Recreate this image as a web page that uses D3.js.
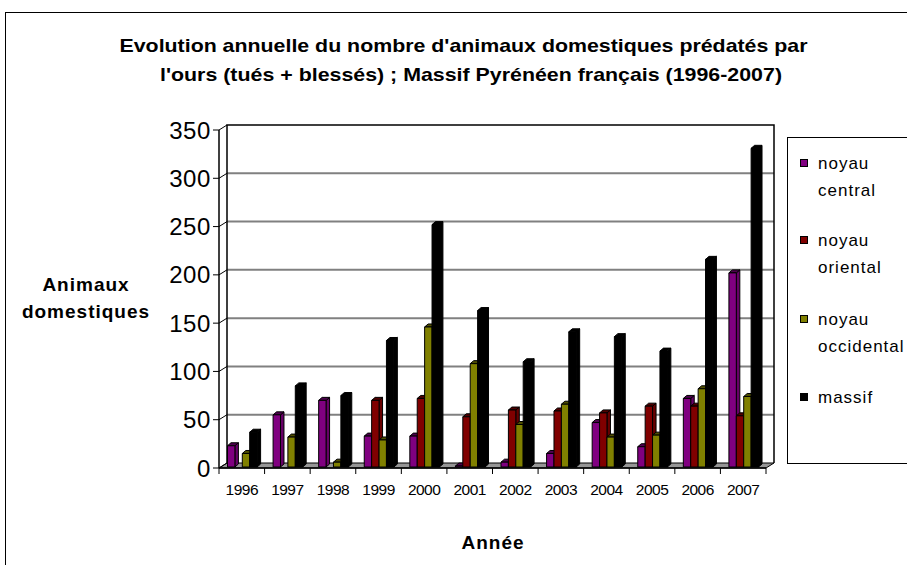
<!DOCTYPE html>
<html>
<head>
<meta charset="utf-8">
<script src="https://cdn.jsdelivr.net/npm/d3@7"></script>
<style>
  body { margin: 0; background: #fff; }
  svg { display: block; font-family: "Liberation Sans", Arial, sans-serif; }
</style>
</head>
<body>
<div id="chart"></div>
<script>
// data
const years = ['1996', '1997', '1998', '1999', '2000', '2001', '2002', '2003', '2004', '2005', '2006', '2007'];
const seriesNames = ['noyau central', 'noyau oriental', 'noyau occidental', 'massif'];
const central = [22, 54, 69, 32, 32, 1, 5, 14, 46, 21, 71, 201];
const oriental = [0, 0, 0, 69, 71, 52, 59, 58, 56, 63, 63, 53];
const occidental = [14, 31, 5, 28, 145, 107, 44, 65, 31, 33, 81, 73];
const massif = [36, 84, 74, 131, 251, 162, 109, 140, 135, 120, 215, 330];
const yTicks = [0, 50, 100, 150, 200, 250, 300, 350];
const colors = ['#800080', '#800000', '#808000', '#000000'];

const values = [central, oriental, occidental, massif];

const width = 907, height = 565;
const depth = {x: 8, y: -5};        // floor depth
const barFront = {x: 2, y: -1};     // bars sit a little behind the front edge
const barDepth = {x: 3.5, y: -3};

let svg = d3.select('#chart')
    .append('svg')
    .attr('width', width)
    .attr('height', height);

// outer border
svg.append('rect')
    .attr('x', 5.5).attr('y', 12.5)
    .attr('width', 1000).attr('height', 1000)
    .attr('fill', 'white')
    .attr('stroke', 'black');

let x = d3.scaleBand().domain(years).range([219, 766]);
let y = d3.scaleLinear().domain([0, 350]).range([468, 130]);
let yBar = d3.scaleLinear().domain([0, 350]).range([468 + barFront.y, 130 + barFront.y]);
let x1 = d3.scaleBand().domain(d3.range(4)).range([0, 29.6]);

const left = x.range()[0], right = x.range()[1];

// back wall gridlines
svg.append('g')
    .selectAll('line')
    .data(yTicks.filter(d => d > 0 && d < 350))
    .join('line')
    .attr('x1', left + depth.x).attr('x2', right + depth.x)
    .attr('y1', d => y(d) + depth.y).attr('y2', d => y(d) + depth.y)
    .attr('stroke', '#808080')
    .attr('stroke-width', 2);

// back wall frame
svg.append('path')
    .attr('d', `M${left + depth.x},${y(0) + depth.y}V${y(350) + depth.y}H${right + depth.x}V${y(0) + depth.y}`)
    .attr('fill', 'none')
    .attr('stroke', 'black')
    .attr('stroke-width', 1.5);

// floor
svg.append('path')
    .attr('d', `M${left},${y(0)}L${left + depth.x},${y(0) + depth.y}H${right + depth.x}L${right},${y(0)}Z`)
    .attr('fill', '#969696')
    .attr('stroke', 'black')
    .attr('stroke-width', 1);

// left axis with 3d ticks
svg.append('line')
    .attr('x1', left).attr('x2', left)
    .attr('y1', y(0)).attr('y2', y(350))
    .attr('stroke', 'black').attr('stroke-width', 1.5);

let yt = svg.append('g').selectAll('g').data(yTicks).join('g');
yt.append('path')
    .attr('d', d => `M${left - 6},${y(d)}H${left}L${left + depth.x},${y(d) + depth.y}`)
    .attr('fill', 'none')
    .attr('stroke', 'black');
yt.append('text')
    .attr('x', left - 8)
    .attr('y', d => y(d) + 8.6)
    .attr('text-anchor', 'end')
    .attr('font-size', 24)
    .attr('letter-spacing', 0.6)
    .text(d => d);

// x axis ticks and labels
svg.append('line')
    .attr('x1', left).attr('x2', right)
    .attr('y1', y(0)).attr('y2', y(0))
    .attr('stroke', 'black').attr('stroke-width', 1.5);

svg.append('g')
    .selectAll('line')
    .data(years.map(d => x(d)).concat([right]))
    .join('line')
    .attr('x1', d => d).attr('x2', d => d)
    .attr('y1', y(0)).attr('y2', y(0) + 6)
    .attr('stroke', 'black');

svg.append('g')
    .selectAll('text')
    .data(years)
    .join('text')
    .attr('x', d => x(d) + x.bandwidth() / 2)
    .attr('y', 495)
    .attr('text-anchor', 'middle')
    .attr('font-size', 15.5)
    .attr('letter-spacing', -0.5)
    .text(d => d);

// bars
let bars = [];
years.forEach((yr, i) => {
    values.forEach((vals, s) => {
        if (vals[i] > 0) bars.push({year: yr, s: s, v: vals[i]});
    });
});

function barFaces(d) {
    const x0 = x(d.year) + 6.5 + barFront.x + x1(d.s);
    const w = x1.bandwidth();
    const y0 = yBar(0), y1 = yBar(d.v);
    const dx = barDepth.x, dy = barDepth.y;
    return {
        front: `M${x0},${y0}V${y1}H${x0 + w}V${y0}Z`,
        top: `M${x0},${y1}L${x0 + dx},${y1 + dy}H${x0 + w + dx}L${x0 + w},${y1}Z`,
        side: `M${x0 + w},${y0}V${y1}L${x0 + w + dx},${y1 + dy}V${y0 + dy}Z`
    };
}

let bg = svg.append('g')
    .selectAll('g')
    .data(bars)
    .join('g');

bg.append('path')
    .attr('d', d => barFaces(d).side)
    .attr('fill', d => d3.color(colors[d.s]).darker(0.6))
    .attr('stroke', 'black');
bg.append('path')
    .attr('d', d => barFaces(d).top)
    .attr('fill', d => d3.color(colors[d.s]).darker(1.4))
    .attr('stroke', 'black');
bg.append('path')
    .attr('d', d => barFaces(d).front)
    .attr('fill', d => colors[d.s])
    .attr('stroke', 'black');

// title
const titleLines = [
    {t: "Evolution annuelle du nombre d'animaux domestiques prédatés par", cx: 463.5, y: 52, len: 688},
    {t: "l'ours (tués + blessés) ; Massif Pyrénéen français (1996-2007)", cx: 471, y: 81, len: 622}
];
svg.append('g')
    .selectAll('text')
    .data(titleLines)
    .join('text')
    .attr('x', d => d.cx)
    .attr('y', d => d.y)
    .attr('text-anchor', 'middle')
    .attr('font-size', 19)
    .attr('font-weight', 'bold')
    .attr('textLength', d => d.len)
    .attr('lengthAdjust', 'spacingAndGlyphs')
    .text(d => d.t);

// axis titles
svg.append('text')
    .attr('x', 493).attr('y', 549)
    .attr('text-anchor', 'middle')
    .attr('font-size', 19)
    .attr('font-weight', 'bold')
    .attr('letter-spacing', 1)
    .text('Année');

svg.append('text')
    .attr('text-anchor', 'middle')
    .attr('font-size', 19)
    .attr('font-weight', 'bold')
    .attr('letter-spacing', 1)
    .selectAll('tspan')
    .data(['Animaux', 'domestiques'])
    .join('tspan')
    .attr('x', 86)
    .attr('y', (d, i) => 291 + i * 27)
    .text(d => d);

// legend
svg.append('rect')
    .attr('x', 787.5).attr('y', 137.5)
    .attr('width', 200).attr('height', 326)
    .attr('fill', 'white')
    .attr('stroke', 'black');

const legendY = [163, 240, 319, 397];
let lg = svg.append('g')
    .selectAll('g')
    .data(seriesNames)
    .join('g')
    .attr('transform', (d, i) => `translate(0,${legendY[i]})`);

lg.append('rect')
    .attr('x', 800.5).attr('y', -3.5)
    .attr('width', 7).attr('height', 7)
    .attr('fill', (d, i) => colors[i])
    .attr('stroke', 'black');

lg.append('text')
    .attr('font-size', 17)
    .attr('letter-spacing', 1)
    .selectAll('tspan')
    .data(d => d.split(' '))
    .join('tspan')
    .attr('x', 818)
    .attr('y', (d, i) => 6 + i * 27)
    .text(d => d);
</script>
</body>
</html>
